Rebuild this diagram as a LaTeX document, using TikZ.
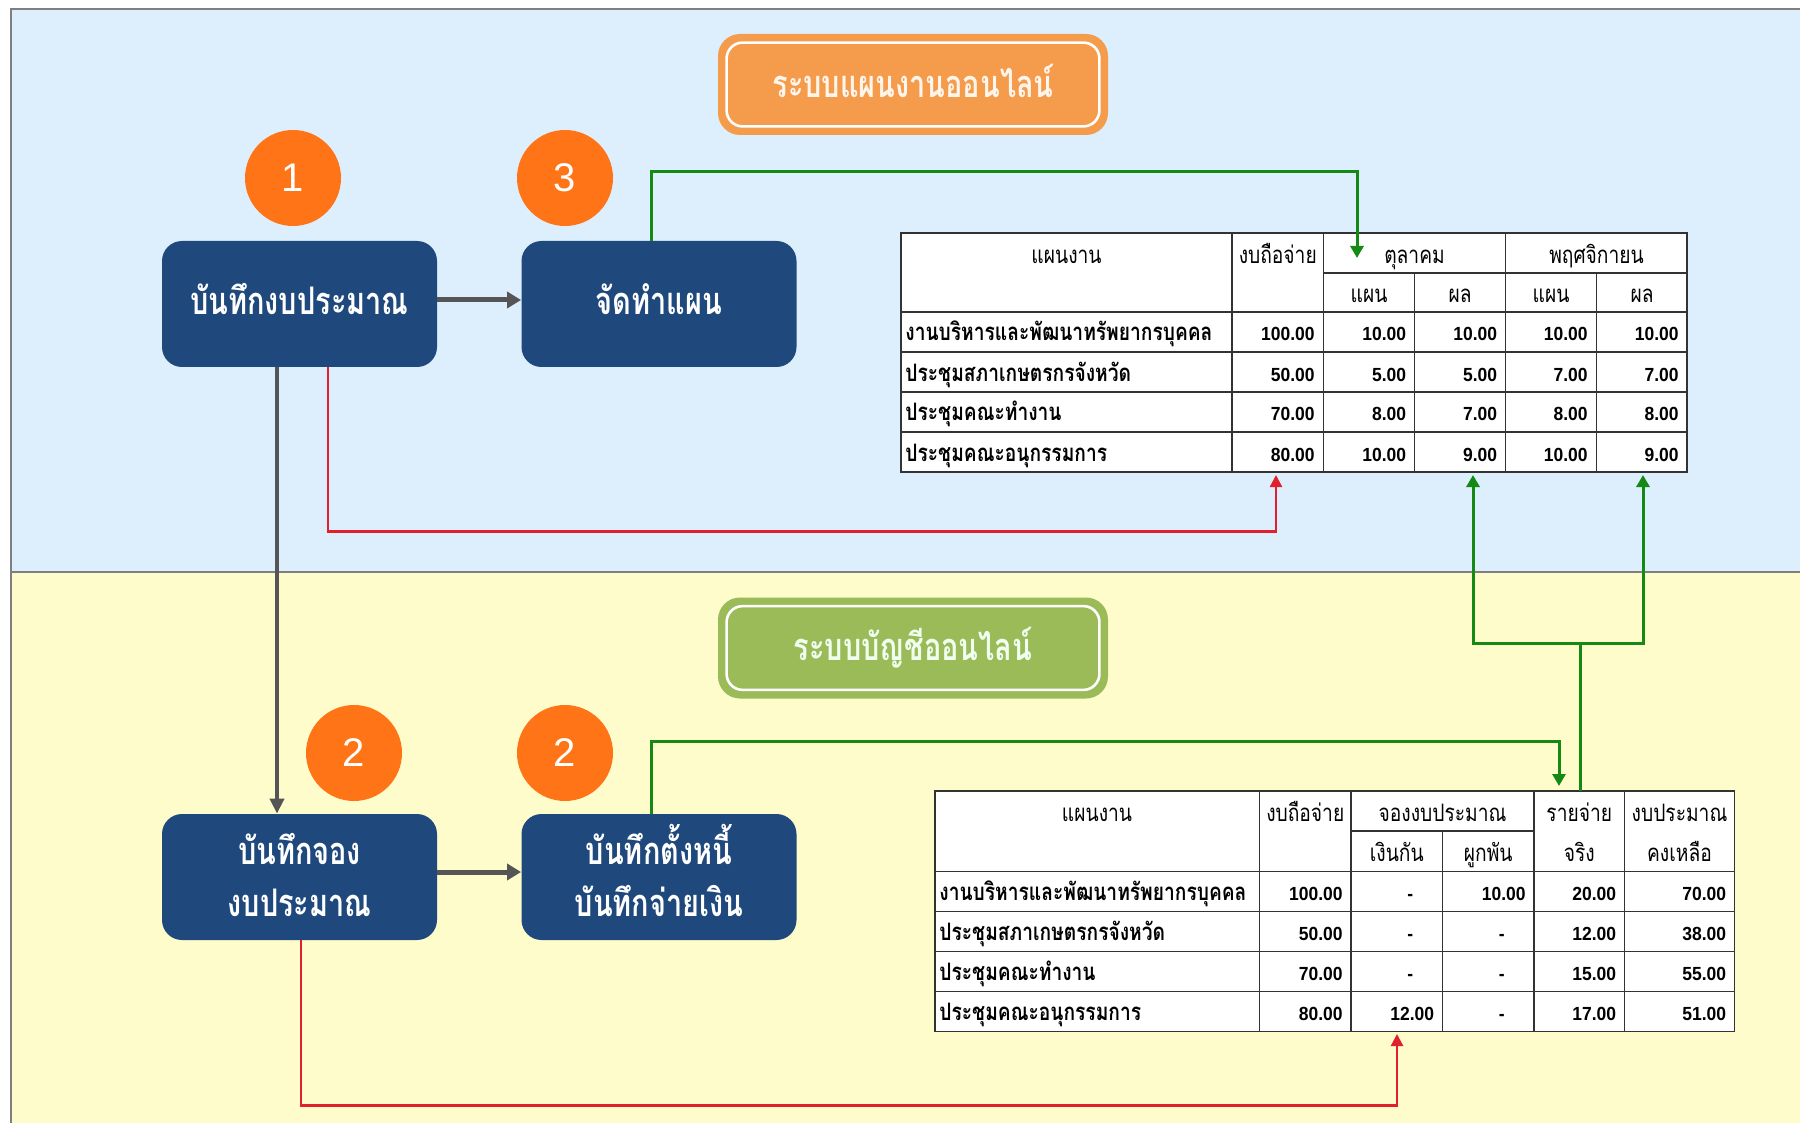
\documentclass[tikz,border=0pt]{standalone}
\usepackage{fontspec}
\usetikzlibrary{arrows.meta,calc}
\newfontfamily\thaibox[Script=Thai,FakeStretch=0.76]{Loma}
\newfontfamily\thaitab[Script=Thai,FakeStretch=0.8]{Loma}
\newfontfamily\numfont[FakeStretch=0.92]{Liberation Sans}
\newfontfamily\circfont{Liberation Sans}
\definecolor{bluebg}{HTML}{DDEFFC}
\definecolor{yellowbg}{HTML}{FFFCCB}
\definecolor{boxblue}{HTML}{1F497D}
\definecolor{badgeorange}{HTML}{FF7416}
\definecolor{titleorange}{HTML}{F59B4C}
\definecolor{titlegreen}{HTML}{9BBB59}
\definecolor{linegreen}{HTML}{148A14}
\definecolor{linered}{HTML}{E0202A}
\definecolor{arrowgray}{HTML}{555555}
\definecolor{framegray}{HTML}{7F7F7F}
\definecolor{tabline}{HTML}{333333}
\newcommand{\dashcell}{-\kern10.5pt}
% one line of text whose box is fixed: height #1, depth #2
\newcommand{\fixline}[3]{\rule[-#2]{0pt}{\dimexpr#1+#2\relax}\smash{#3}}
\begin{document}
\begin{tikzpicture}[x=0.5pt,y=-0.5pt,
  procbox/.style={rounded corners=10pt, fill=boxblue, minimum width=137.5pt, minimum height=63pt,
    text=white, font=\thaibox\bfseries\fontsize{19}{26}\selectfont, align=center, inner sep=0pt},
  badge/.style={circle, fill=badgeorange, minimum size=48pt, inner sep=0pt, text=white,
    font=\circfont\fontsize{20}{24}\selectfont},
  titlebox/.style={rounded corners=11pt, minimum width=195pt, minimum height=50.5pt, inner sep=0pt,
    font=\thaibox\bfseries\fontsize{19}{24}\selectfont},
  innerline/.style={draw=white, line width=1.3pt, rounded corners=8pt},
  greenarrow/.style={draw=linegreen, line width=1.5pt, -{Triangle[length=6pt,width=6.5pt]}},
  greenline/.style={draw=linegreen, line width=1.5pt},
  redarrow/.style={draw=linered, line width=1.2pt, -{Triangle[length=6pt,width=6pt]}},
  grayarrow/.style={draw=arrowgray, line width=2.5pt, -{Triangle[length=7pt,width=8pt]}},
  grayvarrow/.style={draw=arrowgray, line width=2pt, -{Triangle[length=7.5pt,width=7pt]}},
  tabgrid/.style={draw=tabline, line width=0.8pt},
  tabhead/.style={anchor=base, inner sep=0pt, font=\thaitab\fontsize{12}{14}\selectfont},
  tabname/.style={anchor=base west, inner sep=0pt, font=\thaitab\bfseries\fontsize{12}{14}\selectfont},
  tabnum/.style={anchor=base east, inner sep=0pt, font=\numfont\bfseries\fontsize{9.5}{11}\selectfont}
]
\useasboundingbox (0,0) rectangle (1800,1123);
% backgrounds
\fill[white] (0,0) rectangle (1800,1123);
\fill[bluebg] (11,9) rectangle (1800,572);
\fill[yellowbg] (11,572) rectangle (1800,1123);
\draw[framegray, line width=1.2pt] (11,1123) -- (11,9) -- (1800,9);
\draw[framegray, line width=1pt] (11,572) -- (1800,572);

% title boxes
\node[titlebox, fill=titleorange, text=white!92!orange] (TA) at (913,84.5) {\fixline{14pt}{1.2pt}{ระบบแผนงานออนไลน์}};
\draw[innerline] ([shift={(4.5pt,-4.5pt)}]TA.north west) rectangle ([shift={(-4.5pt,4.5pt)}]TA.south east);
\node[titlebox, fill=titlegreen, text=white!94!green] (TB) at (913,648) {\fixline{14pt}{1.2pt}{ระบบบัญชีออนไลน์}};
\draw[innerline] ([shift={(4.5pt,-4.5pt)}]TB.north west) rectangle ([shift={(-4.5pt,4.5pt)}]TB.south east);

% process boxes
\node[procbox] (B1) at (299.5,304) {\fixline{12pt}{1.4pt}{บันทึกงบประมาณ}};
\node[procbox] (B2) at (659,304) {\fixline{12pt}{1.4pt}{จัดทำแผน}};
\node[procbox] (B3) at (299.5,877) {\fixline{14pt}{0pt}{บันทึกจอง}\\\fixline{0pt}{0.6pt}{งบประมาณ}};
\node[procbox] (B4) at (659,877) {\fixline{14pt}{0pt}{บันทึกตั้งหนี้}\\\fixline{0pt}{0.6pt}{บันทึกจ่ายเงิน}};

% badges
\node[badge] (N1) at (293,178) {1};
\node[badge] (N3) at (565,178) {3};
\node[badge] (N2a) at (354,753) {2};
\node[badge] (N2b) at (565,753) {2};

% ---------- table 1 ----------
\fill[white] (901,233) rectangle (1687,472);
\draw[tabgrid] (901,233) rectangle (1687,472);
\foreach \xx in {1232,1323.5,1505.5} \draw[tabgrid] (\xx,233) -- (\xx,472);
\foreach \xx in {1414.5,1596.5} \draw[tabgrid] (\xx,273) -- (\xx,472);
\draw[tabgrid] (1323.5,273) -- (1687,273);
\foreach \yy in {312,352,392,432} \draw[tabgrid] (901,\yy) -- (1687,\yy);
\node[tabhead] (h1a) at (1066.5,263.5) {แผนงาน};
\node[tabhead] (h1b) at (1277.75,263.5) {งบถือจ่าย};
\node[tabhead] (h1c) at (1414.5,263.5) {ตุลาคม};
\node[tabhead] (h1d) at (1596.5,263.5) {พฤศจิกายน};
\node[tabhead] (h1e) at (1369,302.5) {แผน};
\node[tabhead] (h1f) at (1460,302.5) {ผล};
\node[tabhead] (h1g) at (1551,302.5) {แผน};
\node[tabhead] (h1h) at (1642,302.5) {ผล};
\foreach \nm/\va/\vb/\vc/\vd/\ve [count=\i] in {
  งานบริหารและพัฒนาทรัพยากรบุคคล/100.00/10.00/10.00/10.00/10.00,
  ประชุมสภาเกษตรกรจังหวัด/50.00/5.00/5.00/7.00/7.00,
  ประชุมคณะทำงาน/70.00/8.00/7.00/8.00/8.00,
  ประชุมคณะอนุกรรมการ/80.00/10.00/9.00/10.00/9.00}{
  \pgfmathsetmacro\yb{312+40*(\i-0.5)+9}
  \node[tabname] (ta\i n) at (905,\yb) {\nm};
  \node[tabnum] (ta\i a) at (1315,\yb) {\va};
  \node[tabnum] (ta\i b) at (1406.5,\yb) {\vb};
  \node[tabnum] (ta\i c) at (1497.5,\yb) {\vc};
  \node[tabnum] (ta\i d) at (1588,\yb) {\vd};
  \node[tabnum] (ta\i e) at (1679,\yb) {\ve};
}

% ---------- table 2 ----------
\fill[white] (935,791) rectangle (1734.5,1031.5);
\draw[tabgrid] (935,791) rectangle (1734.5,1031.5);
\foreach \xx in {1259.5,1351,1534,1624.5} \draw[tabgrid] (\xx,791) -- (\xx,1031.5);
\draw[tabgrid] (1442.5,831) -- (1442.5,1031.5);
\draw[tabgrid] (1351,831) -- (1534,831);
\foreach \yy in {871.5,911.5,951.5,991.5} \draw[tabgrid] (935,\yy) -- (1734.5,\yy);
\node[tabhead] (h2a) at (1097,821) {แผนงาน};
\node[tabhead] (h2b) at (1305.25,821) {งบถือจ่าย};
\node[tabhead] (h2c) at (1442.5,821) {จองงบประมาณ};
\node[tabhead] (h2d) at (1579.25,821) {รายจ่าย};
\node[tabhead] (h2e) at (1679.5,821) {งบประมาณ};
\node[tabhead] (h2f) at (1396.75,861) {เงินกัน};
\node[tabhead] (h2g) at (1488.25,861) {ผูกพัน};
\node[tabhead] (h2h) at (1579.25,861) {จริง};
\node[tabhead] (h2i) at (1679.5,861) {คงเหลือ};
\foreach \nm/\va/\vb/\vc/\vd/\ve [count=\i] in {
  งานบริหารและพัฒนาทรัพยากรบุคคล/100.00/\dashcell/10.00/20.00/70.00,
  ประชุมสภาเกษตรกรจังหวัด/50.00/\dashcell/\dashcell/12.00/38.00,
  ประชุมคณะทำงาน/70.00/\dashcell/\dashcell/15.00/55.00,
  ประชุมคณะอนุกรรมการ/80.00/12.00/\dashcell/17.00/51.00}{
  \pgfmathsetmacro\yb{871.5+40*(\i-0.5)+9}
  \node[tabname] (tb\i n) at (939,\yb) {\nm};
  \node[tabnum] (tb\i a) at (1343,\yb) {\va};
  \node[tabnum] (tb\i b) at (1434.5,\yb) {\vb};
  \node[tabnum] (tb\i c) at (1526,\yb) {\vc};
  \node[tabnum] (tb\i d) at (1616.5,\yb) {\vd};
  \node[tabnum] (tb\i e) at (1726.5,\yb) {\ve};
}

% ---------- connector end points ----------
\coordinate (t1g) at (1357,258);
\coordinate (t1r) at (1276,475);
\coordinate (t1g1) at (1473,475);
\coordinate (t1g2) at (1643,475);
\coordinate (t2g) at (1559,786);
\coordinate (t2s) at (1580,791);
\coordinate (t2r) at (1397,1034);

% gray flow arrows
\draw[grayarrow] ([yshift=2pt]B1.east) -- ([yshift=2pt]B2.west);
\draw[grayarrow] ([yshift=2.5pt]B3.east) -- ([yshift=2.5pt]B4.west);
\draw[grayvarrow] ([xshift=-11.25pt]B1.south) -- ([xshift=-11.25pt]B3.north);

% red links
\draw[redarrow] ([xshift=14.25pt]B1.south) -- ++(0,164) -| (t1r);
\draw[redarrow] ([xshift=0.75pt]B3.south) -- ++(0,165) -| (t2r);

% green links
\draw[greenarrow] ([xshift=-4pt]B2.north) -- ++(0,-69) -| (t1g);
\draw[greenarrow] ([xshift=-4pt]B4.north) -- ++(0,-72) -| (t2g);
\draw[greenline] (t2s) -- ++(0,-148) coordinate (gj);
\draw[greenarrow] (gj) -| (t1g1);
\draw[greenarrow] (gj) -| (t1g2);
\end{tikzpicture}
\end{document}
